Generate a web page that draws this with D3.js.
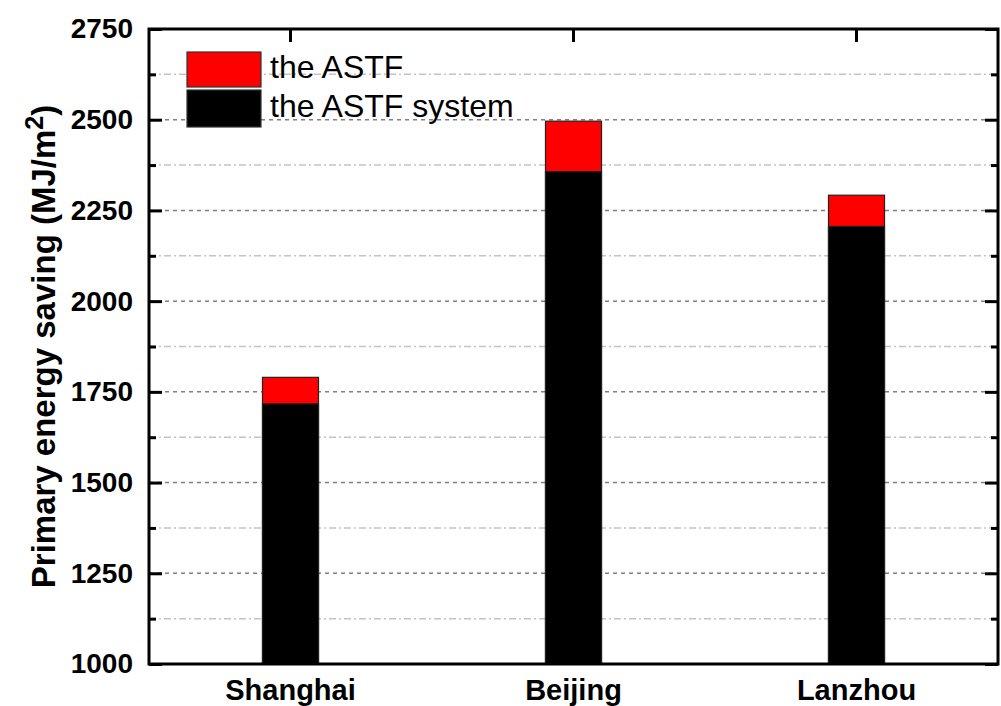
<!DOCTYPE html>
<html>
<head>
<meta charset="utf-8">
<script src="https://cdn.jsdelivr.net/npm/d3@7"></script>
<style>
  html, body { margin: 0; padding: 0; background: #fff; }
  svg { display: block; font-family: "Liberation Sans", Arial, sans-serif; }
</style>
</head>
<body>
<svg id="chart" width="1001" height="706"></svg>
<script>
// Primary energy saving per city (MJ/m2)
const cities = ["Shanghai", "Beijing", "Lanzhou"];
const astf = [1790, 2496, 2292];          // the ASTF
const astfSystem = [1717, 2357, 2206];    // the ASTF system
const majorTicks = [1000, 1250, 1500, 1750, 2000, 2250, 2500, 2750];
const minorTicks = [1125, 1375, 1625, 1875, 2125, 2375, 2625];
const seriesNames = ["the ASTF", "the ASTF system"];
const seriesColors = ["#ff0000", "#000000"];

const svg = d3.select("#chart");
const plot = { left: 149, right: 998, top: 29, bottom: 664 };

const x = d3.scaleBand()
  .domain(cities)
  .range([plot.left, plot.right])
  .paddingInner(0.802)
  .paddingOuter(0.401);

const y = d3.scaleLinear()
  .domain([1000, 2750])
  .range([plot.bottom, plot.top]);

// grid lines
const grid = svg.append("g");
grid.selectAll("line.major")
  .data(majorTicks.filter(v => v > 1000 && v < 2750))
  .join("line")
  .attr("x1", plot.left).attr("x2", plot.right)
  .attr("y1", d => y(d)).attr("y2", d => y(d))
  .attr("stroke", "#7f7f7f").attr("stroke-width", 1.5)
  .attr("stroke-dasharray", "4,4");
grid.selectAll("line.minor")
  .data(minorTicks)
  .join("line")
  .attr("x1", plot.left).attr("x2", plot.right)
  .attr("y1", d => y(d)).attr("y2", d => y(d))
  .attr("stroke", "#c4c4c4").attr("stroke-width", 1.5)
  .attr("stroke-dasharray", "7,3,2,3");

// bars: total ASTF behind, ASTF system in front
const rows = cities.map((c, i) => ({ city: c, a: astf[i], s: astfSystem[i] }));
svg.append("g").selectAll("rect")
  .data(rows)
  .join("rect")
  .attr("x", d => x(d.city))
  .attr("width", x.bandwidth())
  .attr("y", d => y(d.a))
  .attr("height", d => y(1000) - y(d.a))
  .attr("fill", seriesColors[0])
  .attr("stroke", "#222").attr("stroke-width", 1.2);
svg.append("g").selectAll("rect")
  .data(rows)
  .join("rect")
  .attr("x", d => x(d.city))
  .attr("width", x.bandwidth())
  .attr("y", d => y(d.s))
  .attr("height", d => y(1000) - y(d.s))
  .attr("fill", seriesColors[1])
  .attr("stroke", "#222").attr("stroke-width", 1.2);

// axes (ticks pointing inward)
function styleAxis(g) {
  g.select(".domain").remove();
  g.selectAll(".tick line").attr("stroke", "#000").attr("stroke-width", 3);
  g.selectAll(".tick text").attr("fill", "#000").attr("font-weight", "bold");
}

svg.append("g")
  .attr("transform", `translate(${plot.left},0)`)
  .call(d3.axisLeft(y).tickValues(majorTicks).tickSize(-13).tickPadding(16).tickFormat(d3.format("d")))
  .call(styleAxis)
  .call(g => g.selectAll(".tick text").attr("font-size", 28).attr("font-family", "Liberation Sans, Arial, sans-serif"));
svg.append("g")
  .attr("transform", `translate(${plot.left},0)`)
  .call(d3.axisLeft(y).tickValues(minorTicks).tickSize(-7).tickFormat(""))
  .call(styleAxis);
svg.append("g")
  .attr("transform", `translate(${plot.right},0)`)
  .call(d3.axisRight(y).tickValues(majorTicks).tickSize(-13).tickFormat(""))
  .call(styleAxis);
svg.append("g")
  .attr("transform", `translate(${plot.right},0)`)
  .call(d3.axisRight(y).tickValues(minorTicks).tickSize(-7).tickFormat(""))
  .call(styleAxis);
svg.append("g")
  .attr("transform", `translate(0,${plot.top})`)
  .call(d3.axisTop(x).tickSize(-13).tickFormat(""))
  .call(styleAxis);
svg.append("g")
  .attr("transform", `translate(0,${plot.bottom})`)
  .call(d3.axisBottom(x).tickSize(-13).tickPadding(15))
  .call(styleAxis)
  .call(g => g.selectAll(".tick text").attr("font-size", 29).attr("font-family", "Liberation Sans, Arial, sans-serif"));

// frame
svg.append("rect")
  .attr("x", plot.left).attr("y", plot.top)
  .attr("width", plot.right - plot.left)
  .attr("height", plot.bottom - plot.top)
  .attr("fill", "none").attr("stroke", "#000").attr("stroke-width", 3);

// y axis title
const yTitle = svg.append("text")
  .attr("transform", `translate(55,${(105 + 588) / 2}) rotate(-90)`)
  .attr("text-anchor", "middle")
  .attr("font-size", 33).attr("font-weight", "bold").attr("fill", "#000");
yTitle.append("tspan").text("Primary energy saving (MJ/m");
yTitle.append("tspan").attr("font-size", 25).attr("dy", -12).text("2");
yTitle.append("tspan").attr("dy", 12).text(")");

// legend
const legend = svg.append("g");
const legendRows = [
  { y0: 52, h: 35, base: 78 },
  { y0: 90, h: 37, base: 117 }
];
legendRows.forEach((r, i) => {
  legend.append("rect")
    .attr("x", 187).attr("y", r.y0).attr("width", 74).attr("height", r.h)
    .attr("fill", seriesColors[i]).attr("stroke", "#333").attr("stroke-width", 1.2);
  legend.append("text")
    .attr("x", 270).attr("y", r.base)
    .attr("font-size", 32).attr("fill", "#000")
    .text(seriesNames[i]);
});
</script>
</body>
</html>
